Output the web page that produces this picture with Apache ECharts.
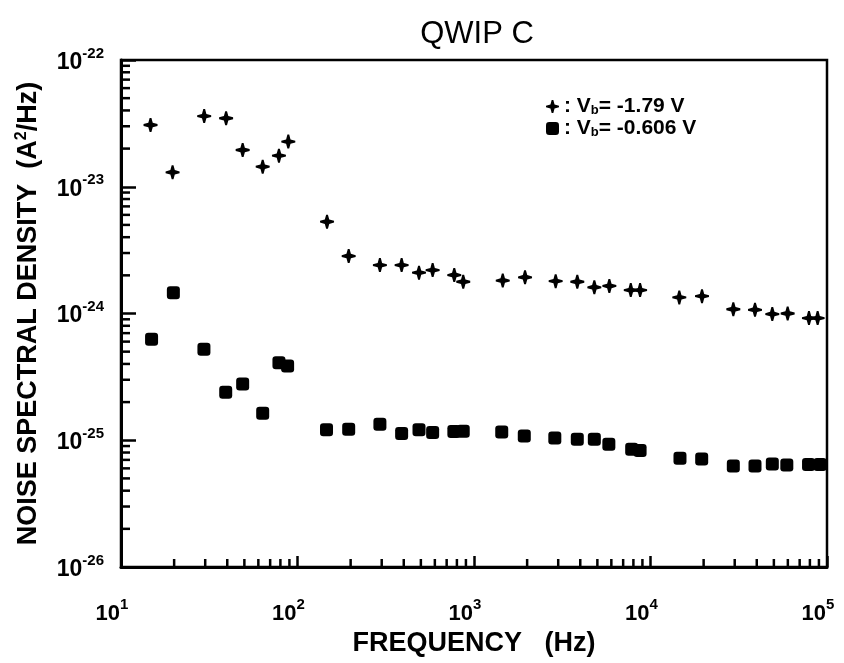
<!DOCTYPE html>
<html>
<head>
<meta charset="utf-8">
<script src="https://cdn.jsdelivr.net/npm/echarts@6/dist/echarts.min.js"></script>
<style>html,body{margin:0;padding:0;background:#fff}#c{width:844px;height:663px}</style>
</head>
<body>
<div id="c"></div>
<script>
// ---- data ----
const seriesNames = ['-1.79 V', '-0.606 V'];
const freqPlus = [14.7, 19.6, 29.6, 39.4, 48.9, 63.5, 78.5, 88.7, 147, 195, 293, 389, 488, 583, 773, 869, 1455, 1946, 2902, 3848, 4806, 5846, 7731, 8730, 14560, 19580, 29460, 39090, 48980, 59860, 79030, 88500];
const nsdPlus = [3.07e-23, 1.30e-23, 3.61e-23, 3.47e-23, 1.95e-23, 1.44e-23, 1.76e-23, 2.27e-23, 5.30e-24, 2.84e-24, 2.41e-24, 2.41e-24, 2.10e-24, 2.20e-24, 2.01e-24, 1.78e-24, 1.82e-24, 1.93e-24, 1.80e-24, 1.78e-24, 1.61e-24, 1.65e-24, 1.53e-24, 1.53e-24, 1.34e-24, 1.37e-24, 1.08e-24, 1.07e-24, 9.9e-25, 1.0e-24, 9.2e-25, 9.2e-25];
const freqSq = [14.9, 19.8, 29.5, 39.2, 48.9, 63.5, 78.5, 87.9, 146, 195, 293, 389, 488, 583, 769, 869, 1436, 1927, 2870, 3848, 4806, 5808, 7823, 8730, 14690, 19500, 29460, 39090, 49000, 59200, 78600, 91400];
const nsdSq = [6.26e-25, 1.46e-24, 5.22e-25, 2.39e-25, 2.78e-25, 1.63e-25, 4.09e-25, 3.85e-25, 1.21e-25, 1.22e-25, 1.34e-25, 1.13e-25, 1.21e-25, 1.15e-25, 1.17e-25, 1.18e-25, 1.16e-25, 1.08e-25, 1.04e-25, 1.02e-25, 1.02e-25, 9.3e-26, 8.5e-26, 8.3e-26, 7.2e-26, 7.1e-26, 6.26e-26, 6.26e-26, 6.5e-26, 6.38e-26, 6.45e-26, 6.45e-26];
const xMin = 10, xMax = 1e5;
const yMin = 1e-26, yMax = 1e-22;
const xDecades = [1, 2, 3, 4];          // minor ticks within 10^1..10^5
const yDecades = [-26, -25, -24, -23];  // minor ticks within 10^-26..10^-22
const minorMults = [2, 3, 4, 5, 6, 7, 8, 9];

// ECharts' log scale loses precision below ~1e-20, so y is plotted in units of 1e-26
const Y_EXP = -26;
const Y_UNIT = Math.pow(10, Y_EXP);
const ys = v => v / Y_UNIT;

const xMinor = [];
xDecades.forEach(d => minorMults.forEach(m => xMinor.push(m * Math.pow(10, d))));
const yMinor = [];
yDecades.forEach(d => minorMults.forEach(m => yMinor.push(m * Math.pow(10, d - Y_EXP))));

const FONT = '"Liberation Sans", Arial, sans-serif';
const crossPath = 'path://M-0.9,-7 L0.9,-7 L2.2,-2.2 L7,-0.9 L7,0.9 L2.2,2.2 L0.9,7 L-0.9,7 L-2.2,2.2 L-7,0.9 L-7,-0.9 L-2.2,-2.2 Z';

function expLabelX(v) {
  return '{b|10}{s|' + Math.round(Math.log10(v)) + '}';
}
function expLabelY(v) {
  return '{b|10}{s|' + (Math.round(Math.log10(v)) + Y_EXP) + '}';
}
const labelRichX = {
  b: { fontSize: 22, fontWeight: 'bold', fontFamily: FONT, color: '#000', lineHeight: 28, verticalAlign: 'bottom' },
  s: { fontSize: 15, fontWeight: 'bold', fontFamily: FONT, color: '#000', lineHeight: 28, verticalAlign: 'top', padding: [0, 0, 13, 0] }
};
const labelRichY = {
  b: { fontSize: 23, fontWeight: 'bold', fontFamily: FONT, color: '#000', lineHeight: 28, verticalAlign: 'bottom' },
  s: { fontSize: 15, fontWeight: 'bold', fontFamily: FONT, color: '#000', lineHeight: 28, verticalAlign: 'top', padding: [0, 0, 14, 0] }
};

const chart = echarts.init(document.getElementById('c'), null, { renderer: 'canvas' });
chart.setOption({
  animation: false,
  backgroundColor: '#fff',
  title: {
    text: 'QWIP C', left: 472, top: 14, textAlign: 'center',
    textStyle: { fontFamily: FONT, fontSize: 31, fontWeight: 'normal', color: '#000' }
  },
  grid: { left: 121, right: 17, top: 60, bottom: 96, show: true, borderColor: '#000', borderWidth: 2.5, backgroundColor: 'transparent' },
  legend: {
    orient: 'vertical', left: 541, top: 91, itemGap: 1, itemWidth: 13, itemHeight: 13,
    data: seriesNames,
    formatter: n => '{t|: V}{sub|b}{t|= ' + n + '}',
    textStyle: {
      color: '#000',
      rich: {
        t: { fontFamily: FONT, fontSize: 21, fontWeight: 'bold', color: '#000', lineHeight: 21 },
        sub: { fontFamily: FONT, fontSize: 13, fontWeight: 'bold', color: '#000', lineHeight: 21, padding: [7, 0, 0, 0] }
      }
    }
  },
  xAxis: {
    type: 'log', logBase: 10, min: xMin, max: xMax,
    name: 'FREQUENCY   (Hz)', nameLocation: 'middle', nameGap: 60,
    nameTextStyle: { fontFamily: FONT, fontSize: 27, fontWeight: 'bold', color: '#000' },
    axisLine: { show: true, lineStyle: { color: '#000', width: 3 } },
    axisTick: { show: true, inside: true, length: 11, lineStyle: { color: '#000', width: 2.5 } },
    splitLine: { show: false },
    axisLabel: { margin: 30, formatter: expLabelX, rich: labelRichX, padding: [0, 18, 0, 0] }
  },
  yAxis: {
    type: 'log', logBase: 10, min: ys(yMin), max: ys(yMax),
    name: 'NOISE SPECTRAL DENSITY  (A{s|2}/Hz)', nameLocation: 'middle', nameGap: 77, nameRotate: 90,
    nameTextStyle: {
      fontFamily: FONT, fontSize: 27, fontWeight: 'bold', color: '#000',
      rich: { s: { fontFamily: FONT, fontSize: 16, fontWeight: 'bold', color: '#000', padding: [0, 0, 14, 0] } }
    },
    axisLine: { show: true, lineStyle: { color: '#000', width: 3 } },
    axisTick: { show: true, inside: true, length: 15, lineStyle: { color: '#000', width: 2.5 } },
    splitLine: { show: false },
    axisLabel: { margin: 17, formatter: expLabelY, rich: labelRichY }
  },
  series: [
    {
      name: seriesNames[0], type: 'scatter', symbol: crossPath, symbolSize: 14,
      itemStyle: { color: '#000', opacity: 1 },
      data: freqPlus.map((f, i) => [f, ys(nsdPlus[i])])
    },
    {
      name: seriesNames[1], type: 'scatter', symbol: 'roundRect', symbolSize: 13,
      itemStyle: { color: '#000', opacity: 1 },
      data: freqSq.map((f, i) => [f, ys(nsdSq[i])])
    },
    {
      name: 'xminor', type: 'custom', silent: true, z: 1,
      data: xMinor.map(v => [v, 100]),
      renderItem: (params, api) => {
        const cs = params.coordSys;
        const p = api.coord([api.value(0), api.value(1)]);
        const yb = cs.y + cs.height;
        return { type: 'line', shape: { x1: p[0], y1: yb, x2: p[0], y2: yb - 8 }, style: { stroke: '#000', lineWidth: 2.5 } };
      }
    },
    {
      name: 'yminor', type: 'custom', silent: true, z: 1,
      data: yMinor.map(v => [1e3, v]),
      renderItem: (params, api) => {
        const cs = params.coordSys;
        const p = api.coord([api.value(0), api.value(1)]);
        return { type: 'line', shape: { x1: cs.x, y1: p[1], x2: cs.x + 9, y2: p[1] }, style: { stroke: '#000', lineWidth: 2.5 } };
      }
    }
  ]
});
</script>
</body>
</html>
